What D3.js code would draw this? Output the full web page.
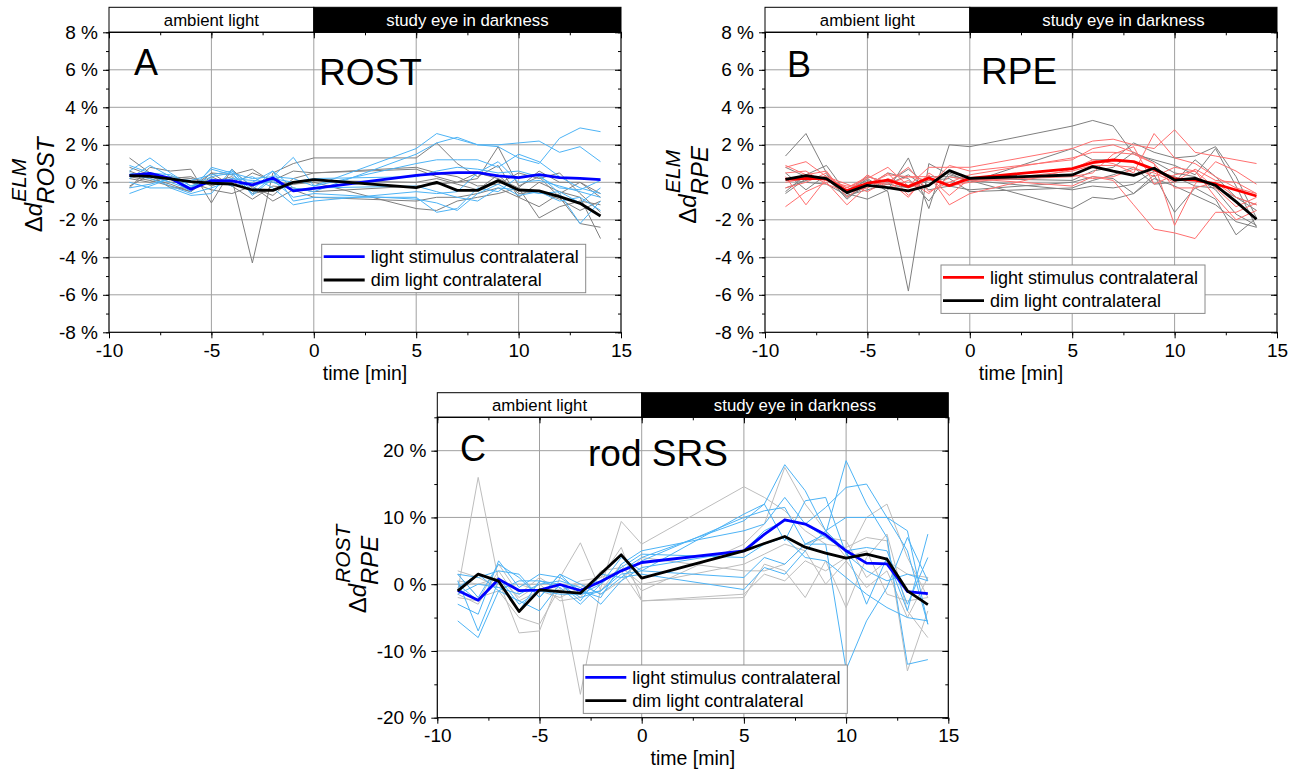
<!DOCTYPE html>
<html><head><meta charset="utf-8">
<script src="https://cdn.jsdelivr.net/npm/d3@7"></script>
<style>
body{margin:0;background:#fff}
svg{display:block;font-family:"Liberation Sans",Arial,sans-serif}
</style>
</head><body>
<svg id="chart" width="1298" height="769"></svg>
<script>
// ---------------- DATA ----------------
const times = [-9,-8,-7,-6,-5,-4,-3,-2,-1,0,5,6,7,8,9,10,11,12,13,14];
const xTicks = [-10,-5,0,5,10,15];
const yTicksAB = [-8,-6,-4,-2,0,2,4,6,8];
const yTicksC = [-20,-10,0,10,20];
const headerLabels = ["ambient light","study eye in darkness"];
const legendLabels = ["light stimulus contralateral","dim light contralateral"];

// Panel A (ROST)
const A_lightMean = [0.37,0.48,0.21,-0.37,0.09,0.07,-0.14,0.23,-0.46,-0.32,0.37,0.46,0.52,0.52,0.34,0.25,0.41,0.25,0.21,0.14];
const A_dimMean   = [0.36,0.32,0.18,0.04,-0.05,-0.09,-0.41,-0.43,0.0,0.14,-0.28,0.0,-0.43,-0.43,0.09,-0.41,-0.46,-0.76,-1.12,-1.8];
const A_lightInd = [
 [0.6,1.3,0.5,-0.2,0.3,0.5,0.2,0.3,0.2,-0.2,1.8,2.6,2.3,2.0,2.0,2.1,2.2,1.6,1.9,1.1],
 [0.2,0.9,0.3,-0.3,0.7,0.4,-0.4,0.6,-0.3,-0.5,1.5,2.1,2.4,2.0,1.9,1.3,1.0,2.35,2.9,2.7],
 [-0.6,-0.2,0.2,-0.5,0.8,0.5,-0.6,0.3,1.33,-0.2,1.0,1.2,1.2,1.2,0.8,1.5,1.1,0.3,-0.3,-0.6],
 [0.4,0.2,-0.2,-0.6,-0.3,0.1,0.3,-0.3,-1.2,-1.0,-0.5,-0.6,-0.5,0.5,1.1,0.0,0.1,-0.2,-0.5,-0.8],
 [0.5,0.3,0.0,-0.4,0.2,-0.2,0.0,0.6,-1.0,-0.8,-0.8,-1.6,-1.4,-0.3,-0.5,0.3,0.4,-0.6,-2.2,-1.0],
 [0.0,-0.3,-0.3,-0.7,-0.6,0.7,-0.7,0.2,0.0,0.2,0.3,0.6,0.8,0.7,0.5,0.6,0.3,-0.3,-0.4,0.1],
 [0.9,0.5,0.4,-0.2,0.0,0.2,0.1,0.0,-0.4,-0.3,-0.2,-0.5,-0.8,-1.0,-0.3,-0.4,-0.6,-0.5,-1.1,-0.3],
 [-0.3,-0.1,0.2,0.1,0.4,0.6,-0.2,0.1,-0.8,-0.6,-0.9,-1.1,-1.5,-0.6,-0.1,-0.7,-0.5,-1.0,-0.8,-1.5]
];
const A_dimInd = [
 [1.3,0.5,0.2,0.3,-0.2,0.2,-4.3,0.5,1.0,1.3,1.3,2.1,1.0,0.3,0.9,-0.8,0.0,-0.5,-0.8,-3.0],
 [-0.3,0.8,0.6,0.7,-1.1,0.7,-0.3,-0.7,0.2,0.5,0.7,0.3,0.0,0.2,1.9,-0.2,0.3,-0.8,-2.2,-2.4],
 [0.8,0.4,-0.3,-0.3,0.5,0.4,0.7,0.0,-0.1,0.0,-1.4,-1.5,-1.0,-0.8,-0.6,-0.3,-1.9,-1.3,-1.0,-1.2],
 [0.3,0.1,-0.2,-0.5,0.3,-0.2,-0.9,-0.2,-0.3,-0.5,-0.2,-0.1,0.0,0.5,0.2,-0.3,0.6,0.0,0.0,-0.6],
 [0.6,0.2,-0.1,-0.5,0.5,-0.2,0.5,0.1,0.6,0.5,0.8,0.5,0.3,-0.2,-0.1,0.5,0.2,0.5,-0.6,-1.6],
 [-0.2,0.4,0.0,0.0,-0.4,-0.6,-0.2,-1.0,-0.4,-0.8,-1.0,-0.8,-0.8,-0.6,-0.3,-0.8,-1.3,-0.6,0.0,-0.8],
 [0.2,0.0,0.3,0.2,0.0,0.3,-0.6,-0.4,-0.1,0.1,0.0,0.2,-0.1,-0.4,0.4,-0.6,-0.5,-0.9,-1.5,-1.0]
];

// Panel B (RPE)
const B_lightMean = [0.16,0.21,0.18,-0.46,-0.05,0.12,-0.23,0.23,-0.18,0.21,0.73,1.05,1.19,1.1,0.69,0.18,0.12,-0.09,-0.41,-0.73];
const B_dimMean   = [0.16,0.36,0.2,-0.55,-0.16,-0.28,-0.46,-0.16,0.62,0.21,0.39,0.84,0.59,0.37,0.75,0.12,0.21,-0.16,-1.03,-1.97];
const B_lightInd = [
 [0.8,1.1,0.3,-0.3,0.2,0.8,-0.2,0.8,0.8,0.8,1.8,2.2,2.3,2.0,1.8,2.8,1.6,1.4,1.2,1.0],
 [-1.3,-0.5,0.0,-1.2,-0.2,0.5,-0.7,0.4,-1.2,-0.6,0.7,1.2,1.0,0.5,2.6,1.3,1.0,0.3,-0.3,-0.6],
 [0.9,0.4,0.6,-0.8,0.0,-0.1,0.3,0.3,-0.7,0.2,-0.2,0.3,0.1,-1.2,-2.5,-2.7,-3.0,-1.6,-1.6,-1.1],
 [0.3,-1.2,0.2,-0.3,0.3,0.0,0.8,-0.5,0.0,0.4,1.3,1.6,1.6,1.5,1.0,-0.3,-0.3,0.0,-0.8,-1.2],
 [0.5,0.6,-0.1,-0.5,-0.3,0.2,-0.2,-0.2,0.9,0.6,1.2,1.8,2.0,1.6,1.0,-2.3,-0.1,1.1,0.6,-0.1],
 [0.0,0.2,0.3,-0.1,-0.5,0.1,-0.8,0.5,-0.2,0.0,0.6,0.9,0.9,0.8,0.3,0.8,0.6,-0.8,-2.0,-1.5],
 [-0.3,0.0,0.5,-0.6,0.4,-0.3,0.1,-0.6,0.3,0.1,0.3,0.5,1.5,1.9,-0.1,0.4,0.6,-0.3,-1.3,-0.8],
 [0.2,0.3,0.1,-0.2,-0.1,0.4,0.3,0.1,0.6,0.2,0.4,0.2,0.3,0.7,0.5,0.0,0.7,0.1,0.0,-0.6]
];
const B_dimInd = [
 [1.4,2.6,0.5,-0.6,-0.9,-0.4,1.3,-1.4,2.0,1.9,3.0,3.3,3.0,1.5,1.2,0.9,0.4,1.8,-0.2,-2.4],
 [-0.5,0.4,0.9,-0.6,0.2,-0.5,-5.8,1.0,0.4,0.1,-1.4,-0.8,-0.9,-0.6,0.4,-1.6,-0.3,-0.9,-2.8,-1.9],
 [-0.6,0.2,0.2,-0.8,-0.2,0.5,0.2,-1.0,0.5,0.0,1.8,1.2,1.2,2.1,1.6,1.3,1.4,1.9,0.3,-1.9],
 [0.5,-0.4,0.4,-0.5,0.3,0.0,0.7,-0.2,0.6,0.2,0.1,0.6,0.8,1.6,1.1,0.5,0.3,-0.4,-1.7,-2.3],
 [0.2,0.0,-0.1,-0.7,-0.4,-0.1,-0.3,0.1,0.2,-0.5,-0.3,0.1,0.4,0.8,-0.1,0.0,1.2,0.3,-0.8,-1.5],
 [-0.3,0.1,0.3,-0.9,0.0,-0.1,0.4,-0.4,-0.2,-0.4,0.0,0.3,0.2,-0.6,0.2,-0.2,-0.7,-1.2,-2.1,-2.4],
 [0.8,0.3,0.2,-0.4,0.1,-0.3,-0.2,0.3,0.3,0.1,-0.4,-0.2,-0.3,-0.1,0.6,0.3,-0.2,-0.3,-0.8,-1.2]
];

// Panel C (rod SRS)
const C_lightMean = [-0.95,-2.4,0.75,-0.95,-0.9,-0.05,-0.95,0.4,2.0,3.25,5.0,7.45,9.65,9.0,7.4,5.0,3.15,3.05,-1.1,-1.4];
const C_dimMean   = [-1.0,1.5,0.45,-4.1,-0.85,-1.1,-1.35,1.55,4.4,0.9,5.0,6.1,7.15,5.55,4.65,3.9,4.5,3.75,-1.0,-3.05];
const C_lightInd = [
 [1.5,-2.0,3.0,1.0,-2.0,1.5,-1.5,-1.0,2.0,4.0,9.5,12.0,17.9,14.0,8.0,5.0,-3.0,4.0,-4.0,7.5],
 [-5.5,-8.0,-1.0,-2.5,-4.0,0.0,-2.5,1.5,1.0,3.5,10.0,11.0,11.5,6.0,7.5,18.5,12.0,7.0,-12.0,-11.3],
 [-3.0,-4.5,3.5,-0.5,1.5,1.0,-1.0,-2.0,3.0,5.0,8.0,9.0,13.0,9.0,11.5,14.5,15.0,10.0,5.0,-6.0],
 [0.5,-7.0,0.5,-4.0,0.5,-0.5,-3.0,0.0,4.0,2.0,1.0,4.0,3.0,6.0,6.0,-12.8,-5.5,-0.5,7.0,0.5],
 [1.5,1.0,2.0,1.5,-2.0,1.5,0.0,-1.5,1.0,1.5,-0.8,2.5,1.5,5.0,8.0,10.0,10.0,10.0,8.0,-6.0],
 [-1.5,0.0,-0.5,-1.5,0.0,0.5,-0.5,-3.0,0.5,2.5,5.0,8.0,9.5,9.0,7.0,5.0,5.5,5.0,-3.0,4.0],
 [0.0,-2.5,1.0,-3.0,-1.0,-1.5,-1.5,0.0,2.5,4.5,4.0,6.0,7.0,4.0,3.5,1.0,-1.5,-3.5,-5.0,-5.5],
 [-0.5,1.5,-1.0,0.5,0.5,0.0,-2.0,-1.0,1.5,2.0,10.5,12.0,6.5,12.5,13.0,4.5,2.0,0.5,1.5,0.5]
];
const C_dimInd = [
 [-1.0,16.0,0.5,-7.3,-7.0,1.0,6.2,-1.0,3.0,-1.0,6.0,9.0,17.5,12.0,8.0,4.0,10.0,12.0,4.0,-2.0],
 [1.5,-2.0,-1.0,-5.0,-6.0,-0.5,-16.5,-0.5,9.4,6.0,14.6,13.0,11.0,8.0,6.0,5.5,7.0,6.5,-13.0,-4.0],
 [-2.0,-2.5,3.0,-1.5,1.0,-1.0,0.5,1.0,5.5,-2.5,-2.0,3.0,2.0,-2.0,3.5,-3.5,4.0,7.5,-4.0,-8.0],
 [0.5,0.0,1.0,-2.0,0.0,-2.5,-2.0,2.0,2.5,0.0,3.0,4.5,6.0,5.0,0.0,3.5,-0.5,2.0,-5.0,1.0],
 [2.0,1.0,-0.5,0.0,-1.0,-1.0,0.0,-1.5,0.5,4.0,2.0,2.0,3.0,6.0,7.0,6.5,1.0,3.5,1.5,1.0],
 [-1.5,-3.0,2.0,-2.5,-1.0,-2.0,-0.5,1.0,2.0,-2.5,-1.5,1.5,0.5,3.5,2.0,4.0,5.0,-1.5,-2.5,-2.0]
];

// ---------------- DRAW ----------------
const svg = d3.select("#chart");
const FONT = '"Liberation Sans",Arial,sans-serif';

const panels = [
 {left:109, right:621, top:32.3, bottom:332.3, hTop:7.3, yDom:[-8,8], yTicks:yTicksAB, yMinorStep:1, gridY:yTicksAB,
  letter:"A", letterPos:[134,75], title:"ROST", titlePos:[319,85], sup:"ELM", sub:"ROST",
  lightMean:A_lightMean, dimMean:A_dimMean, lightInd:A_lightInd, dimInd:A_dimInd,
  lightCol:"#0000ff", lightIndCol:"#4db3f5", dimIndCol:"#7f7f7f", legend:[321.7,244.3], xTitleY:380, xTickY:359, labOff:0},
 {left:765, right:1277, top:32.3, bottom:332.3, hTop:7.3, yDom:[-8,8], yTicks:yTicksAB, yMinorStep:1, gridY:yTicksAB,
  letter:"B", letterPos:[787,77], title:"RPE", titlePos:[981,84], sup:"ELM", sub:"RPE",
  lightMean:B_lightMean, dimMean:B_dimMean, lightInd:B_lightInd, dimInd:B_dimInd,
  lightCol:"#ff0000", lightIndCol:"#ff6f6f", dimIndCol:"#7f7f7f", legend:[941,265], xTitleY:380, xTickY:359, labOff:-2},
 {left:437.3, right:948.3, top:417.3, bottom:717.7, hTop:392.7, yDom:[-20,25], yTicks:yTicksC, yMinorStep:5, gridY:yTicksC,
  letter:"C", letterPos:[460,461], title:"rod SRS", titlePos:[588,466], sup:"ROST", sub:"RPE",
  lightMean:C_lightMean, dimMean:C_dimMean, lightInd:C_lightInd, dimInd:C_dimInd,
  lightCol:"#0000ff", lightIndCol:"#4db3f5", dimIndCol:"#bdbdbd", legend:[583.3,665], xTitleY:765, xTickY:745, labOff:-4}
];

panels.forEach(p => {
  const g = svg.append("g");
  const x = d3.scaleLinear().domain([-10,15]).range([p.left,p.right]);
  const y = d3.scaleLinear().domain(p.yDom).range([p.bottom,p.top]);

  // grid
  g.append("g").selectAll("line").data(xTicks.slice(1,-1)).join("line")
    .attr("x1",d=>x(d)).attr("x2",d=>x(d)).attr("y1",p.top).attr("y2",p.bottom)
    .attr("stroke","#a0a0a0").attr("stroke-width",1);
  g.append("g").selectAll("line").data(p.gridY.filter(v=>v>p.yDom[0] && v<p.yDom[1])).join("line")
    .attr("y1",d=>y(d)).attr("y2",d=>y(d)).attr("x1",p.left).attr("x2",p.right)
    .attr("stroke","#a0a0a0").attr("stroke-width",1);

  // header bar
  const xm = x(0);
  g.append("rect").attr("x",p.left).attr("y",p.hTop).attr("width",xm-p.left).attr("height",p.top-p.hTop)
    .attr("fill","#fff").attr("stroke","#000").attr("stroke-width",1);
  g.append("rect").attr("x",xm).attr("y",p.hTop).attr("width",p.right-xm).attr("height",p.top-p.hTop)
    .attr("fill","#000").attr("stroke","#000").attr("stroke-width",1);
  g.append("text").attr("x",(p.left+xm)/2).attr("y",p.hTop+18.5).attr("text-anchor","middle")
    .attr("font-size",16.8).attr("fill","#000").text(headerLabels[0]);
  g.append("text").attr("x",(xm+p.right)/2).attr("y",p.hTop+18.5).attr("text-anchor","middle")
    .attr("font-size",16.8).attr("fill","#fff").text(headerLabels[1]);

  // lines
  const line = d3.line().x((d,i)=>x(times[i])).y(d=>y(d));
  const clipId = "clip"+p.letter;
  svg.append("clipPath").attr("id",clipId).append("rect")
    .attr("x",p.left).attr("y",p.top).attr("width",p.right-p.left).attr("height",p.bottom-p.top);
  const lg = g.append("g").attr("clip-path",`url(#${clipId})`);
  lg.selectAll("path.di").data(p.dimInd).join("path").attr("class","di")
    .attr("d",line).attr("fill","none").attr("stroke",p.dimIndCol).attr("stroke-width",1);
  lg.selectAll("path.li").data(p.lightInd).join("path").attr("class","li")
    .attr("d",line).attr("fill","none").attr("stroke",p.lightIndCol).attr("stroke-width",1);
  lg.append("path").datum(p.lightMean).attr("d",line).attr("fill","none")
    .attr("stroke",p.lightCol).attr("stroke-width",2.8).attr("stroke-linejoin","round");
  lg.append("path").datum(p.dimMean).attr("d",line).attr("fill","none")
    .attr("stroke","#000").attr("stroke-width",2.8).attr("stroke-linejoin","round");

  // axes
  const yMinor = d3.range(p.yDom[0], p.yDom[1]+0.001, p.yMinorStep);
  const xMinor = d3.range(-10, 15.001, 2.5);
  const styleAxis = sel => { sel.select(".domain").remove(); sel.selectAll("line").attr("stroke","#000"); };
  // left
  g.append("g").attr("transform",`translate(${p.left},0)`)
    .call(d3.axisLeft(y).tickValues(yMinor).tickSize(3).tickFormat(""))
    .call(styleAxis);
  g.append("g").attr("transform",`translate(${p.left},0)`)
    .call(d3.axisLeft(y).tickValues(p.yTicks).tickSize(6).tickPadding(5).tickFormat(d=>d+" %"))
    .call(styleAxis)
    .call(s=>s.selectAll("text").attr("font-size",19).attr("font-family",FONT).attr("fill","#000"));
  // right (inward)
  g.append("g").attr("transform",`translate(${p.right},0)`)
    .call(d3.axisLeft(y).tickValues(yMinor).tickSize(3).tickFormat("")).call(styleAxis);
  g.append("g").attr("transform",`translate(${p.right},0)`)
    .call(d3.axisLeft(y).tickValues(p.yTicks).tickSize(6).tickFormat("")).call(styleAxis);
  // bottom
  g.append("g").attr("transform",`translate(0,${p.bottom})`)
    .call(d3.axisBottom(x).tickValues(xMinor).tickSize(3).tickFormat("")).call(styleAxis);
  g.append("g").attr("transform",`translate(0,${p.bottom})`)
    .call(d3.axisBottom(x).tickValues(xTicks).tickSize(6).tickPadding(5).tickFormat(d=>d))
    .call(styleAxis)
    .call(s=>s.selectAll("text").attr("font-size",19).attr("font-family",FONT).attr("fill","#000"));
  // top (inward)
  g.append("g").attr("transform",`translate(0,${p.top})`)
    .call(d3.axisBottom(x).tickValues(xMinor).tickSize(3).tickFormat("")).call(styleAxis);
  g.append("g").attr("transform",`translate(0,${p.top})`)
    .call(d3.axisBottom(x).tickValues(xTicks).tickSize(6).tickFormat("")).call(styleAxis);
  // frame
  g.append("rect").attr("x",p.left).attr("y",p.top).attr("width",p.right-p.left).attr("height",p.bottom-p.top)
    .attr("fill","none").attr("stroke","#000").attr("stroke-width",1.2);

  // x title
  g.append("text").attr("x",(p.left+p.right)/2).attr("y",p.xTitleY).attr("text-anchor","middle")
    .attr("font-size",19.5).text("time [min]");

  // y title
  const yl = svg.append("g").attr("transform",`translate(${p.left-67+p.labOff},${(p.top+p.bottom)/2+2}) rotate(-90)`);
  const base = yl.append("text").attr("font-size",24);
  base.append("tspan").text("Δ");
  base.append("tspan").attr("font-style","italic").text("d");
  const bw = base.node().getComputedTextLength();
  const s1 = yl.append("text").attr("font-size",21).attr("font-style","italic").attr("y",-16).text(p.sup);
  const s2 = yl.append("text").attr("font-size",24).attr("font-style","italic").attr("y",12).text(p.sub);
  const w = bw + Math.max(s1.node().getComputedTextLength(), s2.node().getComputedTextLength());
  base.attr("x",-w/2); s1.attr("x",-w/2+bw+1); s2.attr("x",-w/2+bw-1);

  // panel letter and title
  g.append("text").attr("x",p.letterPos[0]).attr("y",p.letterPos[1]).attr("font-size",36).text(p.letter);
  g.append("text").attr("x",p.titlePos[0]).attr("y",p.titlePos[1]).attr("font-size",37).text(p.title);

  // legend
  const [lx,ly] = p.legend;
  const leg = g.append("g");
  leg.append("rect").attr("x",lx).attr("y",ly).attr("width",264).attr("height",48.4)
    .attr("fill","#fff").attr("stroke","#8a8a8a").attr("stroke-width",1);
  const cols = [p.lightCol,"#000"];
  legendLabels.forEach((t,i)=>{
    const cy = ly + 12.4 + i*23.3;
    leg.append("line").attr("x1",lx+2).attr("x2",lx+43).attr("y1",cy).attr("y2",cy)
      .attr("stroke",cols[i]).attr("stroke-width",2.8);
    leg.append("text").attr("x",lx+49).attr("y",cy+6.3).attr("font-size",18).text(t);
  });
});
</script>
</body></html>
